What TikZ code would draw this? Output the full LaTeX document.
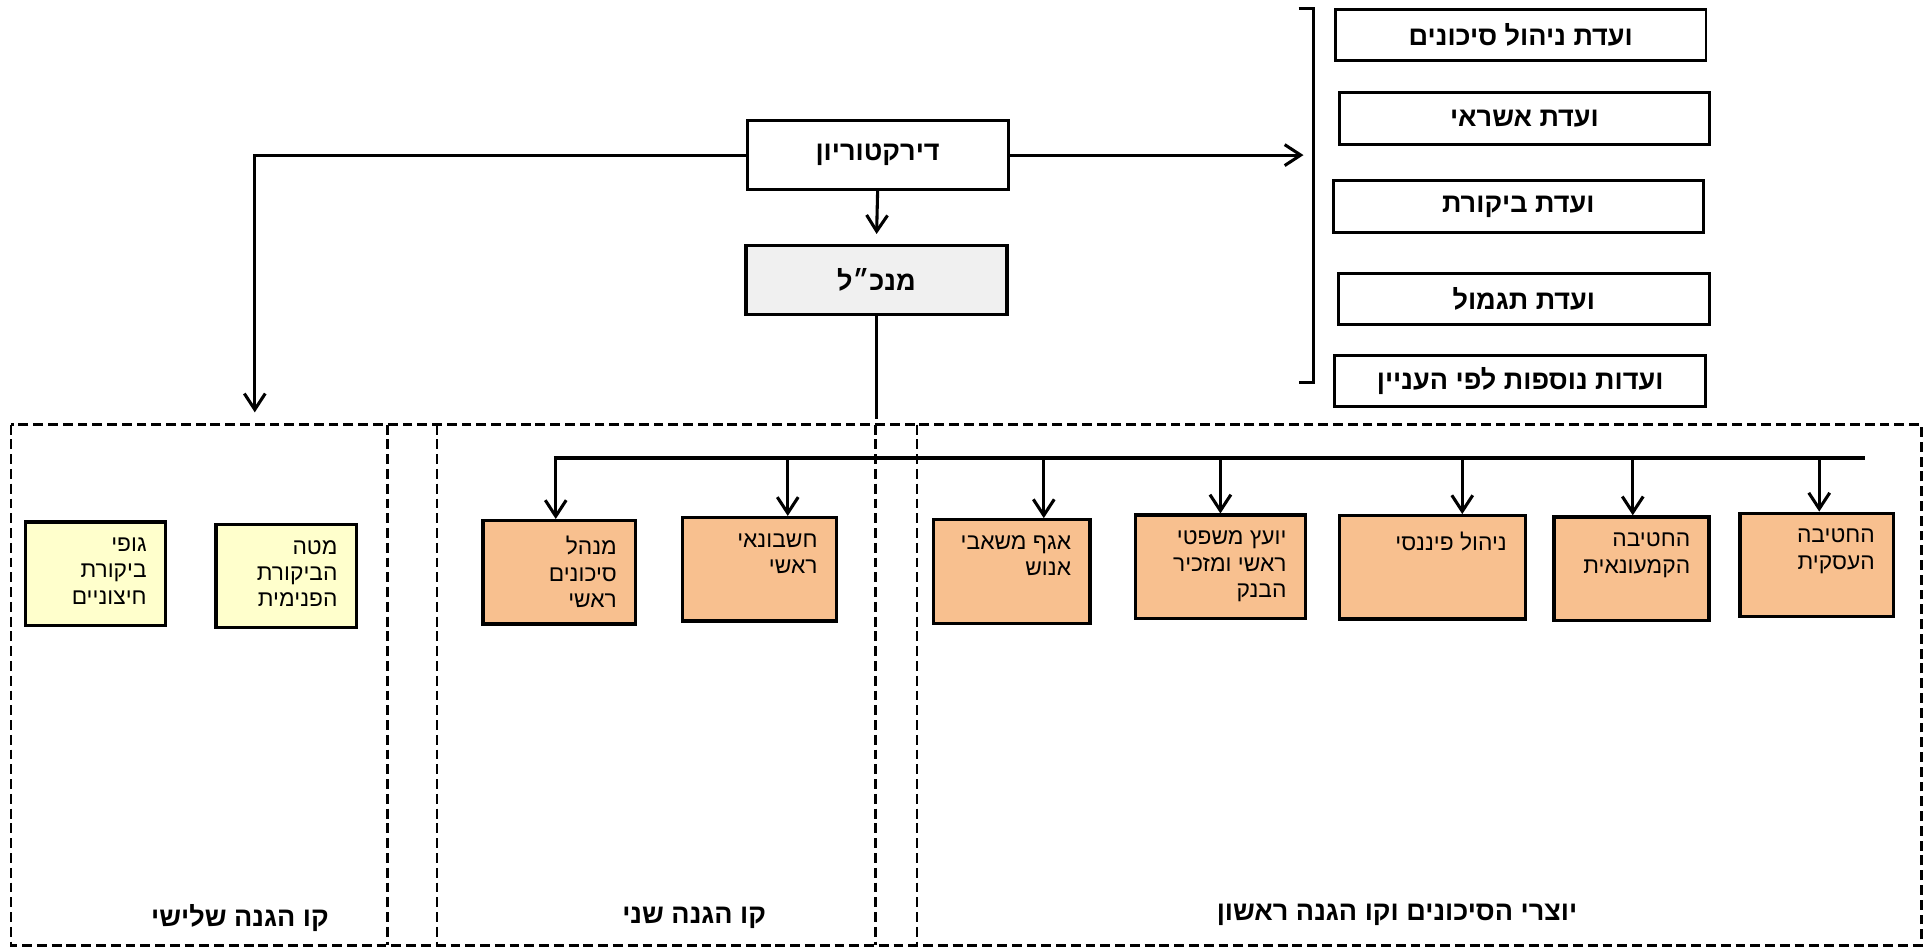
\documentclass[tikz,border=0pt]{standalone}
\usepackage{fontspec}
\usepackage{xcolor}
\usepackage{tikz}
\usetikzlibrary{arrows.meta}
\TeXXeTstate=1
\newfontfamily\hebfont[Script=Hebrew]{Liberation Sans}
\newcommand\heb[1]{{\hebfont\beginR #1\endR}}
\definecolor{unitorange}{HTML}{F8C08F}
\definecolor{audityellow}{HTML}{FFFFCC}
\definecolor{ceogray}{HTML}{F0F0F0}

\begin{document}
\begin{tikzpicture}[x=1pt,y=-1pt,
  box/.style={draw,line width=2.7pt,inner sep=0pt},
  unit/.style={box,fill=unitorange,minimum height=84pt},
  audit/.style={box,fill=audityellow,minimum width=114pt,minimum height=84pt},
  head/.style={box,line width=2.4pt,minimum width=212pt,minimum height=56pt,font=\fontsize{22}{26}\selectfont\bfseries},
  committee/.style={box,line width=2.4pt,minimum width=301pt,minimum height=42pt,font=\fontsize{22}{26}\selectfont\bfseries},
  boxtext/.style={anchor=north east,align=right,inner sep=0pt,xshift=-16.5pt,yshift=-14pt,font=\fontsize{18.5}{21.5}\selectfont},
  arr/.style={line width=2.5pt,-{Straight Barb[length=13pt,width=17pt]}},
  lane/.style={line width=2.3pt,dash pattern=on 8pt off 4pt},
  linelabel/.style={font=\fontsize{22}{26}\selectfont\bfseries}]
\useasboundingbox (0,0) rectangle (1568,771);
% board and ceo
\node[head] (board) at (713,126) {\heb{דירקטוריון}};
\node[head,fill=ceogray,line width=2.8pt] (ceo) at (712,227.5) {\heb{מנכ״ל}};
\draw[arr,shorten >=8pt] (board.south) -- (ceo.north);
% committees
\node[committee] (crisk) at (1235.5,28.5) {\heb{ועדת ניהול סיכונים}};
\node[committee] (ccredit) at (1238.5,96.5) {\heb{ועדת אשראי}};
\node[committee] (caudit) at (1233.5,168) {\heb{ועדת ביקורת}};
\node[committee] (cpay) at (1238,243) {\heb{ועדת תגמול}};
\node[committee] (cmore) at (1235,309.5) {\heb{ועדות נוספות לפי העניין}};
\draw[line width=2.2pt] (1055,7) -- (1067,7) -- (1067,311) -- (1055,311);
\coordinate (cbrk) at (1059,126);
\draw[arr] (board.east) -- (cbrk);
% lines of defence
\coordinate (third) at (207,335);
\draw[arr] (board.west) -| (third);
\coordinate (ceoend) at (710,340);
\draw[line width=2.5pt] (ceo.south) -- (ceo.south |- ceoend);
\draw[lane] (9,345) rectangle (1561,768);
\foreach \x in {315,355,711,745} \draw[lane] (\x,345) -- (\x,768);
\node[linelabel] (lthird) at (195,746) {\heb{קו הגנה שלישי}};
\node[linelabel] (lsecond) at (564,746) {\heb{קו הגנה שני}};
\node[linelabel] (lfirst) at (1135,743) {\heb{יוצרי הסיכונים וקו הגנה ראשון}};
% third line
\node[audit,label={[boxtext]north east:\heb{גופי}\\\heb{ביקורת}\\\heb{חיצוניים}}] (ext) at (77.5,466) {};
\node[audit,label={[boxtext]north east:\heb{מטה}\\\heb{הביקורת}\\\heb{הפנימית}}] (intaud) at (232.5,468) {};
% second line
\node[unit,minimum width=124pt,label={[boxtext]north east:\heb{מנהל}\\\heb{סיכונים}\\\heb{ראשי}}] (cro) at (454.5,465) {};
\node[unit,minimum width=125pt,label={[boxtext]north east:\heb{חשבונאי}\\\heb{ראשי}}] (cacc) at (617,462.5) {};
% first line
\node[unit,minimum width=127pt,label={[boxtext]north east:\heb{אגף משאבי}\\\heb{אנוש}}] (hr) at (822,464.3) {};
\node[unit,minimum width=138pt,label={[boxtext]north east:\heb{יועץ משפטי}\\\heb{ראשי ומזכיר}\\\heb{הבנק}}] (legal) at (991.5,460.5) {};
\node[unit,minimum width=151pt,label={[boxtext]north east:\heb{ניהול פיננסי}}] (fin) at (1164,461) {};
\node[unit,minimum width=126pt,label={[boxtext]north east:\heb{החטיבה}\\\heb{הקמעונאית}}] (retail) at (1325.5,462) {};
\node[unit,minimum width=125pt,label={[boxtext]north east:\heb{החטיבה}\\\heb{העסקית}}] (biz) at (1476,459) {};
% bus
\coordinate (busL) at (450,372);
\coordinate (busR) at (1515,372);
\draw[line width=3pt] (busL) -- (busR);
\foreach \n/\dx in {cro/-3,cacc/23,hr/26,legal/0,fin/24,retail/1,biz/2}{
  \path ([xshift=\dx pt]\n.north) coordinate (tip);
  \draw[arr] (tip |- busL) -- (tip);
}
\end{tikzpicture}
\end{document}
